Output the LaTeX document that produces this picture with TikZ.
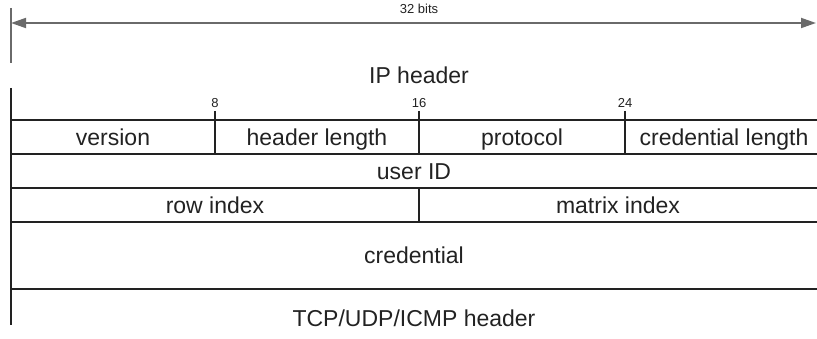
\documentclass[tikz,border=0pt]{standalone}
\usepackage{fontspec}
\setmainfont{Liberation Sans}
\usetikzlibrary{arrows.meta}
\definecolor{ink}{HTML}{222222}
\definecolor{dim}{HTML}{6A6A6A}
\tikzset{
  rule/.style={draw=ink, line width=2.6pt},
  guide/.style={draw=dim, line width=1.8pt},
  field/.style={text=ink, font=\fontsize{23}{26}\selectfont, inner sep=0pt, anchor=base},
  bitno/.style={text=ink, font=\fontsize{13}{15}\selectfont, inner sep=0pt, anchor=base},
}
\begin{document}
\begin{tikzpicture}[x=1pt, y=-1pt]
\useasboundingbox (0,0) rectangle (817,339);

% width indicator
\coordinate (wl) at (11,23);
\coordinate (wr) at (816,23);
\draw[guide] (11,8) -- (11,63);
\draw[guide, -{Triangle[length=15pt,width=10pt]}] (414,23) -- (wr);
\draw[guide, -{Triangle[length=15pt,width=10pt]}] (414,23) -- (wl);
\node[bitno] (bits) at (419,14) {32 bits};

% header caption
\node[field] (iph) at (419,84) {IP header};

% left edge of the packet
\draw[rule] (11,88) -- (11,325);

% row boundaries
\foreach \y in {120,154,188,222,289}
  \draw[rule] (11,\y) -- (817,\y);

% bit offset ticks
\foreach \x/\n in {215/8,419/16,625/24}{
  \draw[rule] (\x,111) -- (\x,154);
  \node[bitno] at (\x,108) {\n};
}
% split of the third row
\draw[rule] (419,188) -- (419,222);

% field names
\node[field] (ver)  at (113,146) {version};
\node[field] (hlen) at (317,146) {header length};
\node[field] (prot) at (522,146) {protocol};
\node[field] (clen) at (724,146) {credential length};
\node[field] (uid)  at (414,180) {user ID};
\node[field] (row)  at (215,214) {row index};
\node[field] (mat)  at (618,214) {matrix index};
\node[field] (cred) at (414,264) {credential};
\node[field] (tcp)  at (414,326) {TCP/UDP/ICMP header};
\end{tikzpicture}
\end{document}
